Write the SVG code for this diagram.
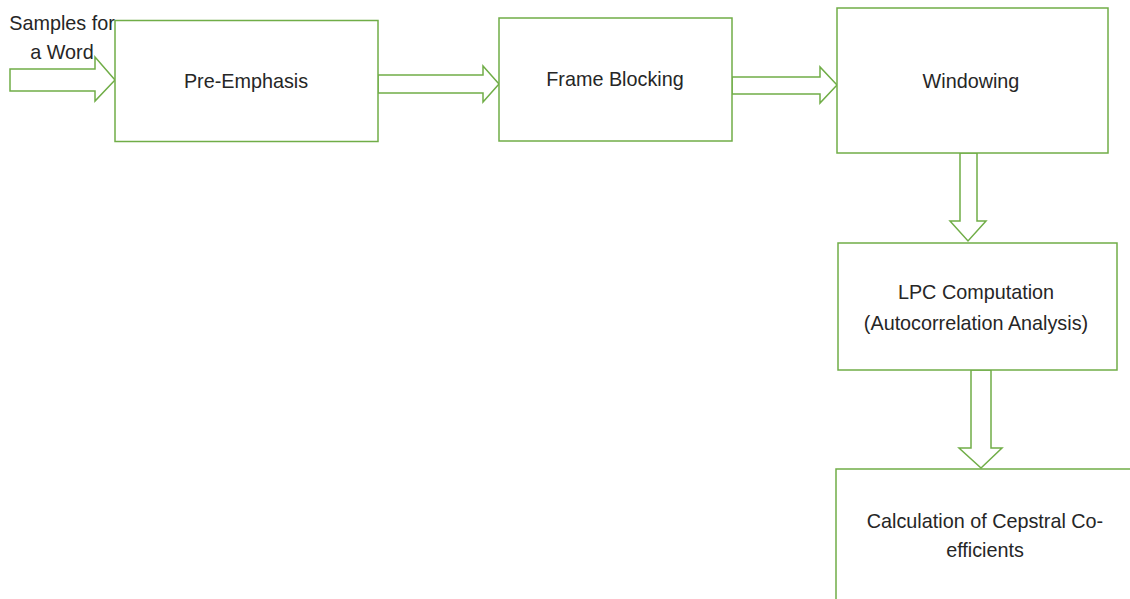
<svg xmlns="http://www.w3.org/2000/svg" width="1130" height="599" viewBox="0 0 1130 599">
<style>
.box{fill:#fff;stroke:#70ad47;stroke-width:1.5}
.arr{fill:#fff;stroke:#70ad47;stroke-width:1.5;stroke-linejoin:miter}
text{font-family:"Liberation Sans",Arial,sans-serif;font-size:19.8px;fill:#262626;text-anchor:middle}
</style>
<rect width="1130" height="599" fill="#fff"/>
<g id="connectors">
<polygon class="arr" points="10,69 95,69 95,57 115,80 95,101 95,91 10,91"/>
<polygon class="arr" points="378,75 483,75 483,66 499,84 483,102 483,93 378,93"/>
<polygon class="arr" points="732,77 820,77 820,67 837,85 820,103 820,94 732,94"/>
<polygon class="arr" points="960,153 977,153 977,221 986,221 968,241 950,221 960,221"/>
<polygon class="arr" points="971,370 991,370 991,448 1002,448 981,468 959,448 971,448"/>
</g>
<g id="input-label">
<text x="62" y="30">Samples for</text>
<text x="62" y="59">a Word</text>
</g>
<g id="pre-emphasis">
<rect class="box" x="115" y="20.5" width="263" height="121"/>
<text x="246" y="88">Pre-Emphasis</text>
</g>
<g id="frame-blocking">
<rect class="box" x="499" y="18" width="233" height="123"/>
<text x="615" y="86">Frame Blocking</text>
</g>
<g id="windowing">
<rect class="box" x="837" y="8" width="271" height="145"/>
<text x="971" y="88">Windowing</text>
</g>
<g id="lpc">
<rect class="box" x="838" y="243" width="279" height="127"/>
<text x="976" y="299">LPC Computation</text>
<text x="976" y="330">(Autocorrelation Analysis)</text>
</g>
<g id="cepstral">
<rect class="box" x="836" y="469" width="310" height="150"/>
<text x="985" y="528">Calculation of Cepstral Co-</text>
<text x="985" y="557">efficients</text>
</g>
</svg>
